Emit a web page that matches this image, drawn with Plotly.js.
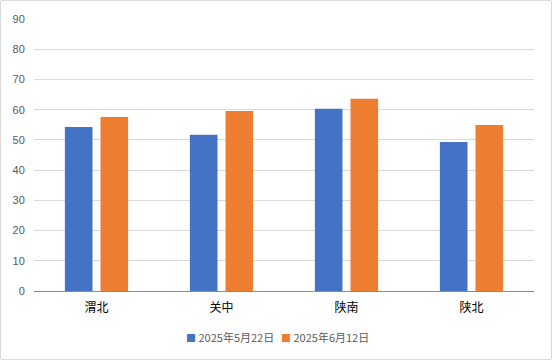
<!DOCTYPE html>
<html><head><meta charset="utf-8">
<script src="https://cdn.plot.ly/plotly-3.0.1.min.js"></script>
<style>
html,body{margin:0;padding:0;background:#fff;}
#wrap{position:absolute;left:0;top:0;width:550px;height:358px;border:1px solid #d9d9d9;border-radius:2px;}
#chart{position:absolute;left:0;top:0;width:552px;height:360px;}
</style></head>
<body><div id="wrap"></div><div id="chart"></div>
<script>
const categories = ['渭北','关中','陕南','陕北'];
const seriesNames = ['2025年5月22日','2025年6月12日'];
const seriesColors = ['#4472C4','#ED7D31'];
const may22 = [54.3, 51.7, 60.3, 49.3];
const jun12 = [57.6, 59.6, 63.6, 54.9];
const yTicks = [0,10,20,30,40,50,60,70,80,90];

const traces = [
  {type:'bar', name:seriesNames[0], x:categories, y:may22, marker:{color:seriesColors[0]}, hoverinfo:'y'},
  {type:'bar', name:seriesNames[1], x:categories, y:jun12, marker:{color:seriesColors[1]}, hoverinfo:'y'}
];
const legendX = [0.30, 0.49];
const annotations = seriesNames.map((n,i)=>({
  xref:'paper', yref:'paper', x:legendX[i], y:-0.168, xanchor:'left', yanchor:'middle',
  showarrow:false, align:'left',
  text:'<span style="color:'+seriesColors[i]+';font-size:10px">■</span> '+n,
  font:{size:11, color:'#595959'}
}));
const layout = {
  width:552, height:360,
  margin:{l:34, r:18, t:19, b:69, autoexpand:false},
  paper_bgcolor:'rgba(0,0,0,0)', plot_bgcolor:'rgba(0,0,0,0)',
  font:{family:'"Noto Sans CJK SC", "Noto Sans", sans-serif', size:11, color:'#595959'},
  barmode:'group', bargap:0.43, bargroupgap:0.225,
  xaxis:{tickfont:{size:12, color:'#000'}, showline:true, linecolor:'#8c8c8c', linewidth:1, ticks:'outside', ticklen:6, tickcolor:'rgba(0,0,0,0)', fixedrange:true},
  yaxis:{range:[0,90], tickvals:yTicks, showgrid:true, gridcolor:'#d9d9d9', zeroline:false, showline:false, ticks:'outside', ticklen:6, tickcolor:'rgba(0,0,0,0)', tickfont:{size:11, color:'#595959', family:'Liberation Sans, Arial, sans-serif'}, fixedrange:true},
  annotations: annotations,
  showlegend:false
};
Plotly.newPlot('chart', traces, layout, {displayModeBar:false, staticPlot:true});
</script></body></html>
